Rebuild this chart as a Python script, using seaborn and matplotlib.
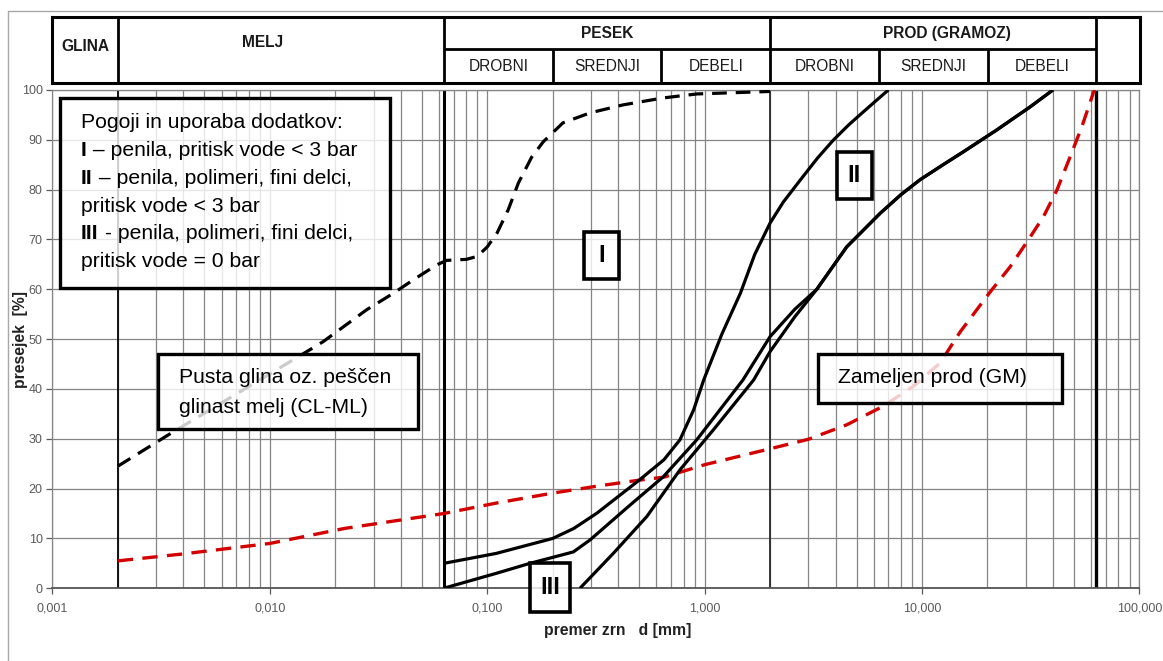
import matplotlib
matplotlib.use("Agg")
import matplotlib.pyplot as plt
from matplotlib.patches import Rectangle
from matplotlib.lines import Line2D
from matplotlib.ticker import FixedLocator, NullFormatter, LogLocator
import seaborn as sns

# ---------------------------------------------------------------- data
# grain-size class limits [mm]
class_limits = [0.002, 0.063, 0.2, 0.63, 2.0, 6.3, 20.0, 63.0]
main_classes = ["GLINA", "MELJ", "PESEK", "PROD (GRAMOZ)"]
sub_classes = ["DROBNI", "SREDNJI", "DEBELI"]

# grading curves: grain diameter d [mm] and passing [%]
curve_I_d = [0.002, 0.00336, 0.0148, 0.0176, 0.0279, 0.037, 0.0457, 0.0586,
             0.065, 0.08, 0.09, 0.1, 0.111, 0.125, 0.139, 0.16, 0.181,
             0.223, 0.297, 0.421, 0.644, 0.922, 2.0]
curve_I_p = [24.5, 30.6, 47.5, 49.5, 55.9, 59.2, 61.9, 64.9,
             65.8, 66.0, 66.6, 68.5, 71.3, 76.0, 81.3, 86.5, 89.6,
             93.4, 95.4, 97.0, 98.4, 99.2, 99.7]

gm_d = [0.002, 0.004, 0.01, 0.022, 0.063, 0.11, 0.2, 0.32, 0.5, 0.65, 1.0,
        2.0, 3.0, 4.5, 6.6, 9.1, 12.1, 15.0, 20.6, 25.4, 30.8, 36.2, 41.7,
        48.0, 54.3, 62.0]
gm_p = [5.5, 6.9, 9.0, 12.0, 15.0, 17.1, 19.1, 20.5, 21.7, 22.3, 24.8,
        28.0, 29.9, 32.8, 36.5, 40.5, 45.2, 51.5, 59.5, 64.5, 69.9, 74.6, 79.9,
        86.6, 92.6, 100.0]

limit_A_d = [0.063, 0.11, 0.2, 0.25, 0.32, 0.5, 0.65, 0.77, 0.89, 0.99,
             1.2, 1.46, 1.7, 2.0, 2.3, 2.75, 3.3, 3.9, 4.6, 5.4, 6.2, 7.0]
limit_A_p = [5.0, 7.0, 10.0, 12.0, 15.1, 21.7, 25.8, 29.8, 35.8, 41.8,
             51.0, 59.2, 67.0, 73.3, 77.5, 81.9, 86.3, 89.9, 93.0, 95.7,
             98.0, 100.0]

limit_B_d = [0.063, 0.11, 0.157, 0.249, 0.297, 0.454, 0.646, 0.92, 1.5, 2.0,
             2.6, 3.28, 4.5, 6.4, 8.0, 9.8, 12.5, 15.5, 22.1, 31.4, 40.0]
limit_B_p = [0.0, 3.0, 5.0, 7.3, 9.7, 16.7, 22.4, 29.8, 41.8, 50.5,
             56.0, 60.0, 68.5, 75.2, 79.0, 82.0, 85.0, 87.6, 92.0, 96.6,
             100.0]

limit_C_d = [0.267, 0.38, 0.542, 0.771, 1.097, 1.68, 2.0, 2.6,
             3.28, 4.5, 6.4, 8.0, 9.8, 12.5, 15.5, 22.1, 31.4, 40.0]
limit_C_p = [0.0, 7.0, 14.4, 23.8, 31.8, 41.8, 47.5, 54.5,
             60.0, 68.5, 75.2, 79.0, 82.0, 85.0, 87.6, 92.0, 96.6, 100.0]

x_ticks = [0.001, 0.01, 0.1, 1.0, 10.0, 100.0]
x_tick_labels = ["0,001", "0,010", "0,100", "1,000", "10,000", "100,000"]
y_ticks = [0, 10, 20, 30, 40, 50, 60, 70, 80, 90, 100]

legend_lines = [
    ("", "Pogoji in uporaba dodatkov:"),
    ("I", " \u2013 penila, pritisk vode < 3 bar"),
    ("II", " \u2013 penila, polimeri, fini delci,"),
    ("", "pritisk vode < 3 bar"),
    ("III", " - penila, polimeri, fini delci,"),
    ("", "pritisk vode = 0 bar"),
]
cl_ml_text = ["Pusta glina oz. pe\u0161\u010den", "glinast melj (CL-ML)"]
gm_text = "Zameljen prod (GM)"

# ---------------------------------------------------------------- style
sns.set_theme(style="white")
plt.rcParams["font.family"] = ["Liberation Sans", "DejaVu Sans"]

GRID = "#858585"
TICK = "#5a5a5a"
RED = "#d40000"

fig = plt.figure(figsize=(11.63, 6.61), dpi=100)
fig.patch.set_facecolor("white")

ax = fig.add_axes([0.04506, 0.1100, 0.9347, 0.7539])
hx = fig.add_axes([0.04506, 0.8744, 0.9352, 0.0998])

# ---------------------------------------------------------------- main grid
ax.set_xscale("log")
ax.set_xlim(0.001, 100)
ax.set_ylim(0, 100)

ax.xaxis.set_major_locator(FixedLocator(x_ticks))
ax.set_xticklabels(x_tick_labels)
ax.xaxis.set_minor_locator(LogLocator(base=10, subs=range(2, 10), numticks=20))
ax.xaxis.set_minor_formatter(NullFormatter())
ax.set_yticks(y_ticks)
ax.set_yticklabels([str(v) for v in y_ticks])

ax.grid(True, which="both", axis="x", color=GRID, lw=0.9, zorder=0)
ax.grid(True, which="major", axis="y", color=GRID, lw=0.9, zorder=0)
ax.set_axisbelow(True)

ax.tick_params(axis="both", which="major", direction="out", length=4,
               width=0.9, color=TICK, labelcolor=TICK, labelsize=9, pad=3)
ax.tick_params(axis="x", which="minor", length=0)
ax.tick_params(axis="x", which="major", pad=6)
ax.tick_params(left=True, bottom=True)

for side in ["left", "right", "top"]:
    ax.spines[side].set_color(GRID)
    ax.spines[side].set_linewidth(0.9)
ax.spines["bottom"].set_color("#555555")
ax.spines["bottom"].set_linewidth(1.3)

# class boundaries through the whole chart
for lim, lw, col in [(0.002, 1.4, "#111111"), (0.063, 2.2, "#000000"),
                     (2.0, 1.4, "#333333"), (63.0, 2.4, "#000000")]:
    ax.axvline(lim, color=col, lw=lw, zorder=1)

# ---------------------------------------------------------------- curves
dash = (0, (4.6, 2.8))
sns.lineplot(x=curve_I_d, y=curve_I_p, ax=ax, color="black", lw=2.3,
             linestyle=dash, sort=False, estimator=None, zorder=3)
sns.lineplot(x=gm_d, y=gm_p, ax=ax, color=RED, lw=2.4,
             linestyle=dash, sort=False, estimator=None, zorder=3)
for d, p in [(limit_A_d, limit_A_p), (limit_B_d, limit_B_p),
             (limit_C_d, limit_C_p)]:
    sns.lineplot(x=d, y=p, ax=ax, color="black", lw=2.3,
                 sort=False, estimator=None, zorder=3,
                 solid_joinstyle="round", solid_capstyle="butt")

# ---------------------------------------------------------------- axis titles
ax.set_ylabel("presejek  [%]", fontsize=11.3, fontweight="bold",
              color="#222222")
ax.yaxis.set_label_coords(-0.0222, 0.5)
ax.set_xlabel("premer zrn   d [mm]", fontsize=11.3, fontweight="bold",
              color="#222222")
ax.xaxis.set_label_coords(0.520, -0.070)

# ---------------------------------------------------------------- boxes
def box(x, y, w, h, lw=2.4):
    r = Rectangle((x, y), w, h, transform=ax.transAxes,
                  facecolor=(1, 1, 1, 0.8), edgecolor="black", lw=lw,
                  zorder=5, clip_on=False)
    ax.add_patch(r)

TXT = 15.2
box(0.0070, 0.6026, 0.3036, 0.3813)
for i, (bold, rest) in enumerate(legend_lines):
    y = 0.9344 - i * 0.0558
    if bold:
        t = ax.text(0.0263, y, bold, transform=ax.transAxes, fontsize=TXT,
                    fontweight="bold", va="center", ha="left", zorder=6,
                    color="black")
        ax.annotate(rest, xy=(1, 0.5), xycoords=t, fontsize=TXT,
                    va="center", ha="left", zorder=6, color="black")
    else:
        ax.text(0.0263, y, rest, transform=ax.transAxes, fontsize=TXT,
                va="center", ha="left", zorder=6, color="black")

box(0.0969, 0.3197, 0.2397, 0.1505)
for i, line in enumerate(cl_ml_text):
    ax.text(0.1165, 0.4226 - i * 0.0602, line, transform=ax.transAxes,
            fontsize=TXT, va="center", ha="left", zorder=6, color="black")

box(0.7046, 0.3712, 0.2239, 0.0990)
ax.text(0.7227, 0.4226, gm_text, transform=ax.transAxes, fontsize=TXT,
        va="center", ha="left", zorder=6, color="black")

for label, (x, y, w, h) in zip(["I", "II", "III"],
                               [(0.4890, 0.6207, 0.0319, 0.0949),
                                (0.7215, 0.7806, 0.0322, 0.0956),
                                (0.4394, -0.0476, 0.0368, 0.0978)]):
    box(x, y, w, h, lw=2.6)
    ax.text(x + w / 2, y + h / 2, label, transform=ax.transAxes,
            fontsize=17, fontweight="bold", ha="center", va="center",
            zorder=6, color="black", clip_on=False)

# ---------------------------------------------------------------- header table
shift = 0.934
hx.set_xscale("log")
hx.set_xlim(0.001 * shift, 100 * shift)
hx.set_ylim(0, 1)
hx.set_xticks([])
hx.set_yticks([])
hx.minorticks_off()
hx.tick_params(which="both", length=0, labelbottom=False, labelleft=False)
for s in hx.spines.values():
    s.set_color("black")
    s.set_linewidth(2.2)
hx.set_facecolor("white")

split = 0.523
full = [0.002, 0.063, 2.0, 63.0]
for lim in class_limits:
    top = 1.0 if lim in full else split
    hx.plot([lim * shift, lim * shift], [0, top], color="black", lw=2.0,
            solid_capstyle="butt")
hx.plot([0.063 * shift, 63.0 * shift], [split, split], color="black", lw=2.0,
        solid_capstyle="butt")


def gmean(a, b):
    return (a * b) ** 0.5


HF = 11.2
HC = "#1a1a1a"
hx.text(gmean(0.001, 0.002) * shift, 0.55, main_classes[0], ha="center",
        va="center", fontsize=HF, fontweight="bold", color=HC)
hx.text(gmean(0.002, 0.063) * shift * 0.82, 0.62, main_classes[1],
        ha="center", va="center", fontsize=HF, fontweight="bold", color=HC)
hx.text(gmean(0.063, 2.0) * shift, 0.745, main_classes[2], ha="center",
        va="center", fontsize=HF, fontweight="bold", color=HC)
hx.text(gmean(2.0, 63.0) * shift * 1.15, 0.745, main_classes[3], ha="center",
        va="center", fontsize=HF, fontweight="bold", color=HC)
for j in range(6):
    a, b = class_limits[1 + j], class_limits[2 + j]
    hx.text(gmean(a, b) * shift, 0.255, sub_classes[j % 3], ha="center",
            va="center", fontsize=HF, color=HC)

# ---------------------------------------------------------------- frame
fig.add_artist(Line2D([8 / 1163, 1.0], [1 - 10.7 / 661, 1 - 10.7 / 661],
                      transform=fig.transFigure, color="#a8a8a8", lw=1.0))
fig.add_artist(Line2D([8 / 1163, 8 / 1163], [0, 1 - 10.7 / 661],
                      transform=fig.transFigure, color="#a8a8a8", lw=1.0))

fig.savefig("out.png", dpi=100, facecolor="white")
